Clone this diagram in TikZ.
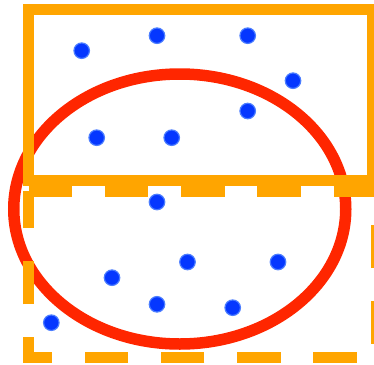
\documentclass[tikz,border=0pt]{standalone}
\begin{document}
\begin{tikzpicture}[x=1pt,y=-1pt,
  dot/.style={circle,fill=dotblue,draw=dotring,line width=1.2pt,minimum size=15.5pt,inner sep=0pt},
  orangeline/.style={draw=setorange,line width=11pt,miter limit=10},
  redline/.style={draw=setred,line width=11.5pt}]
\definecolor{setorange}{RGB}{255,165,0}
\definecolor{setred}{RGB}{255,38,0}
\definecolor{dotblue}{RGB}{5,55,255}
\definecolor{dotring}{RGB}{75,125,255}
\useasboundingbox (0,0) rectangle (374,364);
% ellipse
\draw[redline] (179.75,209) ellipse [x radius=166, y radius=135];
% solid rectangle
\draw[orangeline] (28.5,9.5) rectangle (372.5,180.5);
% dashed rectangle
\draw[orangeline,dash pattern=on 43.5pt off 32.8pt]
  (28.5,191) -- (376.5,191) -- (376.5,357.5) -- (28.5,357.5) -- cycle;
% dots
\node[dot] (p1) at (81.7,50.7) {};
\node[dot] (p2) at (157,35.7) {};
\node[dot] (p3) at (247.7,35.7) {};
\node[dot] (p4) at (293,80.7) {};
\node[dot] (p5) at (247.7,111) {};
\node[dot] (p6) at (96.7,137.7) {};
\node[dot] (p7) at (171.7,137.7) {};
\node[dot] (p8) at (157,202) {};
\node[dot] (p9) at (187.5,262) {};
\node[dot] (p10) at (278,262) {};
\node[dot] (p11) at (112,277.7) {};
\node[dot] (p12) at (157,304.3) {};
\node[dot] (p13) at (232.7,307.7) {};
\node[dot] (p14) at (51.3,322.7) {};
\end{tikzpicture}
\end{document}
